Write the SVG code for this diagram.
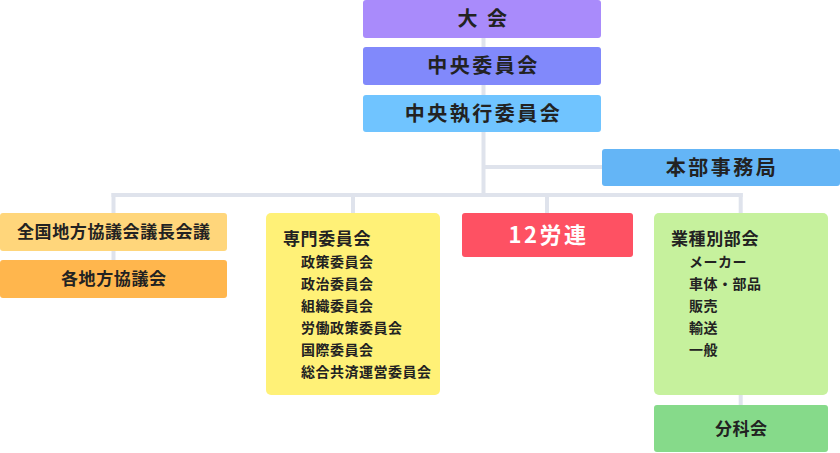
<svg xmlns="http://www.w3.org/2000/svg" width="840" height="453" viewBox="0 0 840 453">
<style>
  .t{font-family:"Noto Sans CJK JP","Noto Sans",sans-serif;font-weight:700;fill:#222222}
  .big{font-size:20px;letter-spacing:2.5px}
  .mid{font-size:17px;letter-spacing:0.6px}
  .sm{font-size:14px;letter-spacing:0.5px}
  .c{text-anchor:middle}
  .ln{stroke:#dfe3ec;stroke-width:4;fill:none}
</style>
<g id="connectors">
  <line class="ln" x1="483.5" y1="38" x2="483.5" y2="196.5"/>
  <line class="ln" x1="483.5" y1="167" x2="602" y2="167"/>
  <line class="ln" x1="111.5" y1="195" x2="742.7" y2="195"/>
  <line class="ln" x1="113.5" y1="193" x2="113.5" y2="260"/>
  <line class="ln" x1="353" y1="193" x2="353" y2="213"/>
  <line class="ln" x1="547" y1="193" x2="547" y2="213"/>
  <line class="ln" x1="740.7" y1="193" x2="740.7" y2="405"/>
</g>
<g id="taikai">
  <rect x="363" y="0" width="238" height="38" rx="3" fill="#a98bfb"/>
  <text class="t big c" x="483.5" y="26">大 会</text>
</g>
<g id="chuo-iinkai">
  <rect x="363" y="47" width="238" height="38" rx="3" fill="#8189fb"/>
  <text class="t big c" x="483.5" y="73">中央委員会</text>
</g>
<g id="chuo-shikko">
  <rect x="363" y="95" width="238" height="37" rx="3" fill="#70c4ff"/>
  <text class="t big c" x="483.5" y="120.5">中央執行委員会</text>
</g>
<g id="honbu">
  <rect x="602" y="149" width="238" height="37" rx="3" fill="#64b5f6"/>
  <text class="t big c" x="722" y="174.5">本部事務局</text>
</g>
<g id="zenkoku">
  <rect x="0" y="213" width="227" height="38" rx="3" fill="#ffd67b"/>
  <text class="t mid c" x="113.8" y="238">全国地方協議会議長会議</text>
</g>
<g id="kakuchiho">
  <rect x="0" y="260" width="227" height="38" rx="3" fill="#ffb64d"/>
  <text class="t mid c" x="113.8" y="285">各地方協議会</text>
</g>
<g id="senmon">
  <rect x="266" y="213" width="174" height="182" rx="5" fill="#fff177"/>
  <text class="t mid" x="283" y="245">専門委員会</text>
  <text class="t sm" x="301" y="267">政策委員会</text>
  <text class="t sm" x="301" y="289">政治委員会</text>
  <text class="t sm" x="301" y="311">組織委員会</text>
  <text class="t sm" x="301" y="333">労働政策委員会</text>
  <text class="t sm" x="301" y="355">国際委員会</text>
  <text class="t sm" x="301" y="377">総合共済運営委員会</text>
</g>
<g id="roren12">
  <rect x="462" y="213" width="171" height="44" rx="3" fill="#fe5163"/>
  <text class="t c" x="548.5" y="243" style="font-size:22px;letter-spacing:2.5px;fill:#ffffff">12労連</text>
</g>
<g id="gyoshu">
  <rect x="654" y="213" width="174" height="182" rx="5" fill="#c6f19d"/>
  <text class="t mid" x="671" y="245">業種別部会</text>
  <text class="t sm" x="689" y="267">メーカー</text>
  <text class="t sm" x="689" y="289">車体・部品</text>
  <text class="t sm" x="689" y="311">販売</text>
  <text class="t sm" x="689" y="333">輸送</text>
  <text class="t sm" x="689" y="355">一般</text>
</g>
<g id="bunkakai">
  <rect x="654" y="405" width="174" height="47" rx="3" fill="#86da8a"/>
  <text class="t mid c" x="741.3" y="434.5">分科会</text>
</g>
</svg>
